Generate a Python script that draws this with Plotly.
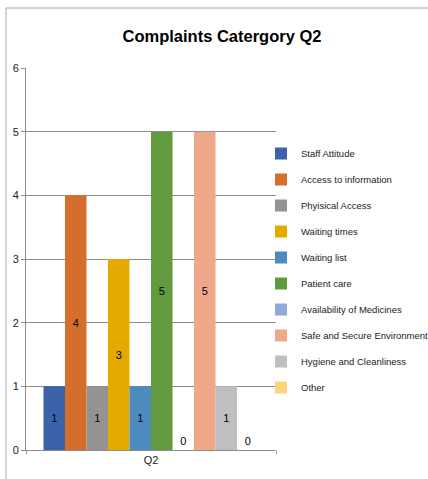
import plotly.graph_objects as go

categories = ["Q2"]
series_names = [
    "Staff Attitude", "Access to information", "Phyisical Access", "Waiting times",
    "Waiting list", "Patient care", "Availability of Medicines",
    "Safe and Secure Environment", "Hygiene and Cleanliness", "Other",
]
series_values = [1, 4, 1, 3, 1, 5, 0, 5, 1, 0]
colors = ["#3B62AA", "#D56E2A", "#939393", "#E5AA00", "#4D8AC0",
          "#629A40", "#8EA9DB", "#F0A88A", "#BFBFBF", "#FFD27F"]
y_ticks = [0, 1, 2, 3, 4, 5, 6]

FONT = "Liberation Sans, Arial, sans-serif"

fig = go.Figure()
for i, (name, val, col) in enumerate(zip(series_names, series_values, colors)):
    fig.add_trace(go.Bar(
        x=categories, y=[val], name=name, marker=dict(color=col, line=dict(width=0)),
        text=[str(val)], textposition="inside" if val > 0 else "outside",
        insidetextanchor="middle", constraintext="none",
        textfont=dict(color="black", size=11, family=FONT),
        legendgroup="g%d" % i,
    ))

W, H = 428, 479
L, R, T, B = 26, 152, 68, 29
pw, ph = W - L - R, H - T - B

def px(x):
    return (x - L) / pw

def py(y):
    return (H - B - y) / ph

fig.update_layout(
    width=W, height=H,
    margin=dict(l=L, r=R, t=T, b=B, pad=0, autoexpand=False),
    paper_bgcolor="white", plot_bgcolor="white",
    font=dict(family=FONT, color="#222", size=11),
    title=dict(text="<b>Complaints Catergory Q2</b>", x=222 / W, xref="container", xanchor="center",
               y=1 - 36 / H, yanchor="middle", font=dict(size=16.5, family=FONT, color="black")),
    barmode="group", bargap=0.14, bargroupgap=0,
    showlegend=True,
    legend=dict(x=px(261), y=py(139), xanchor="left", yanchor="top",
                font=dict(size=9.5, family=FONT, color="#222"),
                tracegroupgap=7, itemwidth=30, bgcolor="rgba(0,0,0,0)"),
    xaxis=dict(showgrid=False, showline=True, linecolor="#8C8C8C", linewidth=1,
               ticks="outside", tickson="boundaries", ticklen=3, tickcolor="#8C8C8C",
               tickfont=dict(size=11, family=FONT, color="#222")),
    yaxis=dict(range=[0, 6], tickvals=y_ticks, showgrid=True, gridcolor="#8C8C8C", gridwidth=1,
               showline=True, linecolor="#8C8C8C", linewidth=1, ticks="outside", ticklen=4,
               tickcolor="#8C8C8C", zeroline=False,
               tickfont=dict(size=11, family=FONT, color="#222")),
    shapes=[
        dict(type="line", xref="paper", yref="paper", x0=px(6), x1=px(430), y0=py(8), y1=py(8),
             line=dict(color="#A6A6A6", width=1)),
        dict(type="line", xref="paper", yref="paper", x0=px(6), x1=px(6), y0=py(8), y1=py(481),
             line=dict(color="#A6A6A6", width=1)),
    ],
)

fig.write_html("out.html", config={"displayModeBar": False},
               post_script="document.body.style.margin='0px';document.body.style.overflow='hidden';")
